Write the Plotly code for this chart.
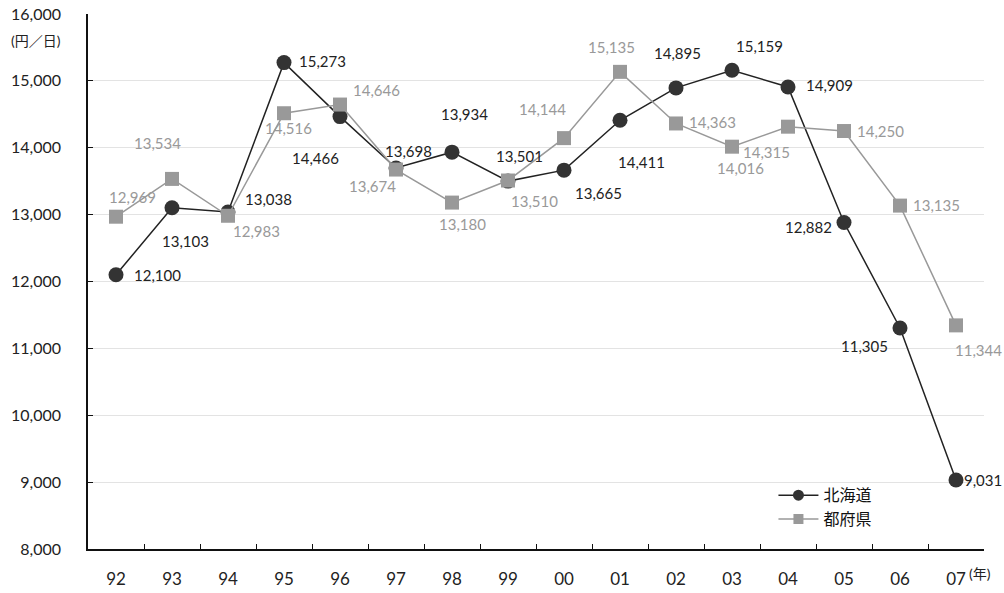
import plotly.graph_objects as go

years = ["92", "93", "94", "95", "96", "97", "98", "99", "00", "01", "02", "03", "04", "05", "06", "07"]
hokkaido = [12100, 13103, 13038, 15273, 14466, 13698, 13934, 13501, 13665, 14411, 14895, 15159, 14909, 12882, 11305, 9031]
prefs = [12969, 13534, 12983, 14516, 14646, 13674, 13180, 13510, 14144, 15135, 14363, 14016, 14315, 14250, 13135, 11344]

# label offsets (pixels) for each data label
h_off = [(41, 0), (13, -33), (40, 13), (38, 2), (-25, -41), (12, 17), (12, 38), (11, 25), (34, -23), (21, -42), (1, 35), (27, 24), (41, 2), (-36, -4), (-36, -18), (27, 0)]
p_off = [(16, 20), (-15, 36), (28, -15), (4, -15), (36, 15), (-24, -16), (10, -21), (26, -20), (-22, 29), (-9, 25), (36, 1), (8, -21), (-22, -25), (36, 0), (36, 1), (22, -25)]

FONT = "Lato, 'Noto Sans CJK JP', sans-serif"

fig = go.Figure()
fig.add_trace(go.Scatter(
    x=years, y=hokkaido, name="北海道", mode="lines+markers", showlegend=False,
    line=dict(color="#222222", width=1.5),
    marker=dict(symbol="circle", size=15, color="#333333"),
))
fig.add_trace(go.Scatter(
    x=years, y=prefs, name="都府県", mode="lines+markers", showlegend=False,
    line=dict(color="#999999", width=1.5),
    marker=dict(symbol="square", size=14, color="#999999"),
))
# legend-only entries with smaller symbols
fig.add_trace(go.Scatter(
    x=[None], y=[None], name="北海道", mode="lines+markers",
    line=dict(color="#222222", width=1.5),
    marker=dict(symbol="circle", size=11, color="#333333"),
))
fig.add_trace(go.Scatter(
    x=[None], y=[None], name="都府県", mode="lines+markers",
    line=dict(color="#999999", width=1.5),
    marker=dict(symbol="square", size=10, color="#999999"),
))

for i, v in enumerate(hokkaido):
    fig.add_annotation(x=i, y=v, text=f"{v:,}", showarrow=False,
                       xshift=h_off[i][0], yshift=h_off[i][1],
                       font=dict(family=FONT, size=15, color="#222222"))
for i, v in enumerate(prefs):
    fig.add_annotation(x=i, y=v, text=f"{v:,}", showarrow=False,
                       xshift=p_off[i][0], yshift=p_off[i][1],
                       font=dict(family=FONT, size=15, color="#999999"))

fig.add_annotation(xref="paper", yref="paper", x=-0.028, y=0.95, xanchor="right", yanchor="middle",
                   text="(円／日)", showarrow=False,
                   font=dict(family=FONT, size=14, color="#222222"))
fig.add_annotation(xref="paper", yref="paper", x=0.981, y=-0.027, xanchor="left", yanchor="top",
                   text="(年)", showarrow=False,
                   font=dict(family=FONT, size=14, color="#222222"))

fig.update_layout(
    width=1004, height=593,
    margin=dict(l=88, r=20, t=14, b=44, autoexpand=False),
    paper_bgcolor="white", plot_bgcolor="white",
    font=dict(family=FONT, size=16, color="#222222"),
    showlegend=True,
    legend=dict(x=0.765, y=0.078, xanchor="left", yanchor="middle",
                bgcolor="rgba(0,0,0,0)", font=dict(size=16, color="#111111"),
                tracegroupgap=0, itemwidth=40),
    xaxis=dict(type="category", showline=True, linecolor="#111111", linewidth=1.5,
               ticks="inside", ticklen=5, tickcolor="#111111", tickson="boundaries",
               showgrid=False, range=[-0.5, 15.5], ticklabelstandoff=14, automargin=False,
               tickfont=dict(size=17)),
    yaxis=dict(range=[8000, 16000], dtick=1000, tickformat=",d",
               showline=True, linecolor="#111111", linewidth=1.5,
               ticks="inside", ticklen=5, tickcolor="#111111",
               showgrid=True, gridcolor="#e3e3e3", gridwidth=1,
               zeroline=False, ticklabelstandoff=22, automargin=False),
)

fig.write_html("out.html")
